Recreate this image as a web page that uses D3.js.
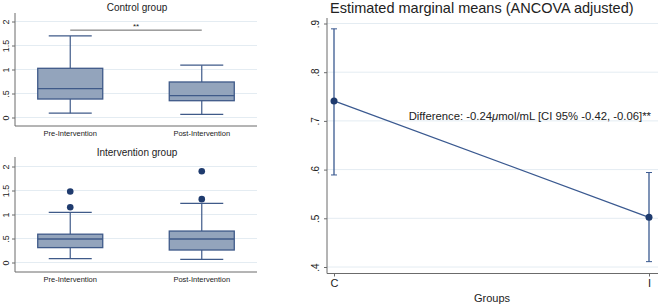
<!DOCTYPE html>
<html>
<head>
<meta charset="utf-8">
<script src="https://cdn.jsdelivr.net/npm/d3@7"></script>
<style>
  body { margin: 0; background: #fff; }
  svg { display: block; font-family: "Liberation Sans", Arial, sans-serif; }
</style>
</head>
<body>
<div id="chart"></div>
<script>
// box plot data
const groups = ['Pre-Intervention', 'Post-Intervention'];
const boxTicks = [0, 0.5, 1, 1.5, 2];
const boxTickLabels = ['0', '.5', '1', '1.5', '2'];

const ctrlLo = [0.09, 0.067];
const ctrlQ1 = [0.385, 0.35];
const ctrlMed = [0.6, 0.455];
const ctrlQ3 = [1.025, 0.74];
const ctrlHi = [1.70, 1.09];
const ctrlOut = [[], []];

const intLo = [0.08, 0.066];
const intQ1 = [0.31, 0.26];
const intMed = [0.49, 0.49];
const intQ3 = [0.59, 0.655];
const intHi = [1.045, 1.23];
const intOut = [[1.15, 1.48], [1.32, 1.9]];

// ANCOVA marginal means
const emmGroups = ['C', 'I'];
const emmMean = [0.741, 0.502];
const emmLo = [0.589, 0.411];
const emmHi = [0.889, 0.594];
const emmTicks = [0.4, 0.5, 0.6, 0.7, 0.8, 0.9];
const emmTickLabels = ['.4', '.5', '.6', '.7', '.8', '.9'];

const W = 658, H = 306;
const boxFill = '#93a4bc', boxStroke = '#3f5a89', dotCol = '#1f3b6e';
const gridCol = '#e4ecf2', axisCol = '#6b6b6b', textCol = '#222';

const svg = d3.select('#chart').append('svg')
  .attr('width', W).attr('height', H);

function boxPanel(cfg) {
  const g = svg.append('g');
  const x = d3.scalePoint().domain(groups).range([15, 257]).padding(0.42);
  const y = d3.scaleLinear().domain([0, 2]).range([cfg.y0, cfg.y0 - 96]);

  // gridlines
  g.selectAll('line.grid').data(boxTicks).join('line')
    .attr('class', 'grid')
    .attr('x1', 15).attr('x2', 257)
    .attr('y1', d => y(d)).attr('y2', d => y(d))
    .attr('stroke', gridCol).attr('stroke-width', 1);

  // y axis
  const ya = g.append('g').attr('transform', 'translate(15,0)')
    .call(d3.axisLeft(y).tickValues(boxTicks).tickFormat((d, i) => boxTickLabels[i]).tickSize(3));
  ya.select('.domain').remove();
  ya.selectAll('line').attr('stroke', axisCol);
  ya.selectAll('text')
    .attr('fill', textCol).style('font-size', '9px')
    .attr('text-anchor', 'middle')
    .attr('transform', 'translate(-9,0) rotate(-90)')
    .attr('x', 0).attr('y', 0).attr('dy', '0.35em');
  g.append('line').attr('x1', 15).attr('x2', 15)
    .attr('y1', cfg.top).attr('y2', cfg.bottom).attr('stroke', axisCol);

  // x axis
  g.append('line').attr('x1', 15).attr('x2', 257)
    .attr('y1', cfg.bottom).attr('y2', cfg.bottom).attr('stroke', axisCol);
  g.selectAll('text.xl').data(groups).join('text')
    .attr('class', 'xl')
    .attr('x', d => x(d)).attr('y', cfg.bottom + 10)
    .attr('text-anchor', 'middle').attr('fill', textCol)
    .style('font-size', '7.5px').text(d => d);

  // title
  g.append('text').attr('x', 137).attr('y', cfg.titleY)
    .attr('text-anchor', 'middle').attr('fill', textCol)
    .style('font-size', '10px').text(cfg.title);

  const bw = 32.5, cw = 21.5;
  groups.forEach((grp, i) => {
    const cx = x(grp);
    const b = g.append('g');
    b.append('line').attr('x1', cx).attr('x2', cx)
      .attr('y1', y(cfg.hi[i])).attr('y2', y(cfg.q3[i])).attr('stroke', boxStroke).attr('stroke-width', 1.2);
    b.append('line').attr('x1', cx).attr('x2', cx)
      .attr('y1', y(cfg.q1[i])).attr('y2', y(cfg.lo[i])).attr('stroke', boxStroke).attr('stroke-width', 1.2);
    b.append('line').attr('x1', cx - cw).attr('x2', cx + cw)
      .attr('y1', y(cfg.hi[i])).attr('y2', y(cfg.hi[i])).attr('stroke', boxStroke).attr('stroke-width', 1.2);
    b.append('line').attr('x1', cx - cw).attr('x2', cx + cw)
      .attr('y1', y(cfg.lo[i])).attr('y2', y(cfg.lo[i])).attr('stroke', boxStroke).attr('stroke-width', 1.2);
    b.append('rect').attr('x', cx - bw).attr('width', bw * 2)
      .attr('y', y(cfg.q3[i])).attr('height', y(cfg.q1[i]) - y(cfg.q3[i]))
      .attr('fill', boxFill).attr('stroke', boxStroke).attr('stroke-width', 1.3);
    b.append('line').attr('x1', cx - bw).attr('x2', cx + bw)
      .attr('y1', y(cfg.med[i])).attr('y2', y(cfg.med[i])).attr('stroke', boxStroke).attr('stroke-width', 1.3);
    b.selectAll('circle').data(cfg.out[i]).join('circle')
      .attr('cx', cx).attr('cy', d => y(d)).attr('r', 3.3).attr('fill', dotCol);
  });
  return { g, x, y };
}

const ctrlPanel = boxPanel({
  title: 'Control group', titleY: 11, y0: 117.5, top: 13, bottom: 126,
  lo: ctrlLo, q1: ctrlQ1, med: ctrlMed, q3: ctrlQ3, hi: ctrlHi, out: ctrlOut
});
// significance bracket
ctrlPanel.g.append('line')
  .attr('x1', ctrlPanel.x(groups[0])).attr('x2', ctrlPanel.x(groups[1]))
  .attr('y1', ctrlPanel.y(1.82)).attr('y2', ctrlPanel.y(1.82))
  .attr('stroke', '#666').attr('stroke-width', 1);
ctrlPanel.g.append('text').attr('x', (ctrlPanel.x(groups[0]) + ctrlPanel.x(groups[1])) / 2).attr('y', ctrlPanel.y(1.82) - 1.5)
  .attr('text-anchor', 'middle').attr('fill', textCol).style('font-size', '8px').text('**');

boxPanel({
  title: 'Intervention group', titleY: 156, y0: 262.5, top: 157, bottom: 272,
  lo: intLo, q1: intQ1, med: intMed, q3: intQ3, hi: intHi, out: intOut
});

// right panel: estimated marginal means
const rg = svg.append('g');
const ex = d3.scalePoint().domain(emmGroups).range([334, 649]);
const ey = d3.scaleLinear().domain([0.4, 0.9]).range([267, 23.5]);
const lineCol = '#3a5990';

rg.selectAll('line.grid').data(emmTicks).join('line')
  .attr('class', 'grid')
  .attr('x1', 327).attr('x2', W)
  .attr('y1', d => ey(d)).attr('y2', d => ey(d))
  .attr('stroke', gridCol);

const eya = rg.append('g').attr('transform', 'translate(327,0)')
  .call(d3.axisLeft(ey).tickValues(emmTicks).tickFormat((d, i) => emmTickLabels[i]).tickSize(3));
eya.select('.domain').remove();
eya.selectAll('line').attr('stroke', axisCol);
eya.selectAll('text')
  .attr('fill', textCol).style('font-size', '10px')
  .attr('text-anchor', 'middle')
  .attr('transform', 'translate(-12,0) rotate(-90)')
  .attr('x', 0).attr('y', 0).attr('dy', '0.35em');
rg.append('line').attr('x1', 327).attr('x2', 327).attr('y1', 18).attr('y2', 273.5).attr('stroke', axisCol);

const exa = rg.append('g').attr('transform', 'translate(0,273.5)')
  .call(d3.axisBottom(ex).tickSize(3).tickPadding(3));
exa.select('.domain').remove();
exa.selectAll('line').attr('stroke', axisCol);
exa.selectAll('text').attr('fill', textCol).style('font-size', '11px');
rg.append('line').attr('x1', 327).attr('x2', W).attr('y1', 273.5).attr('y2', 273.5).attr('stroke', axisCol);

rg.append('text').attr('x', 492).attr('y', 302).attr('text-anchor', 'middle')
  .attr('fill', textCol).style('font-size', '11px').text('Groups');

rg.append('text').attr('x', 330).attr('y', 13).attr('fill', textCol)
  .style('font-size', '14.5px').text('Estimated marginal means (ANCOVA adjusted)');

// CI bars
emmGroups.forEach((grp, i) => {
  const cx = ex(grp);
  rg.append('line').attr('x1', cx).attr('x2', cx)
    .attr('y1', ey(emmHi[i])).attr('y2', ey(emmLo[i])).attr('stroke', lineCol).attr('stroke-width', 1.3);
  [emmHi[i], emmLo[i]].forEach(v => {
    rg.append('line').attr('x1', cx - 3).attr('x2', cx + 3)
      .attr('y1', ey(v)).attr('y2', ey(v)).attr('stroke', lineCol).attr('stroke-width', 1);
  });
});
rg.append('path')
  .datum(emmGroups.map((g, i) => [ex(g), ey(emmMean[i])]))
  .attr('d', d3.line()).attr('fill', 'none').attr('stroke', lineCol).attr('stroke-width', 1.2);
rg.selectAll('circle').data(emmGroups).join('circle')
  .attr('cx', d => ex(d)).attr('cy', (d, i) => ey(emmMean[i])).attr('r', 3.5).attr('fill', dotCol);

const ann = rg.append('text').attr('x', 651).attr('y', 120).attr('text-anchor', 'end')
  .attr('fill', textCol).style('font-size', '11.3px');
ann.append('tspan').text('Difference: -0.24');
ann.append('tspan').style('font-style', 'italic').text('μ');
ann.append('tspan').text('mol/mL [CI 95% -0.42, -0.06]**');
</script>
</body>
</html>
